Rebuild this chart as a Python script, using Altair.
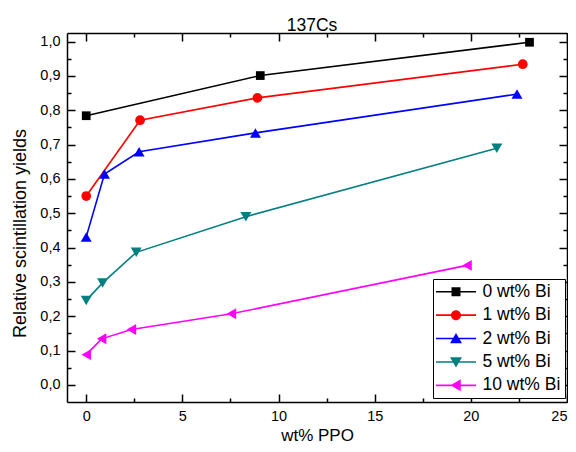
import altair as alt
import pandas as pd

series_names = ["0 wt% Bi", "1 wt% Bi", "2 wt% Bi", "5 wt% Bi", "10 wt% Bi"]
colors = ["#000000", "#ff0000", "#0000ff", "#008080", "#ff00ff"]
shapes = ["square", "circle", "triangle-up", "triangle-down", "triangle-left"]
marker_sizes = [76, 95, 120, 120, 120]

ppo_0 = [0, 9.05, 23.05]
yield_0 = [0.784, 0.901, 0.998]
ppo_1 = [0, 2.8, 8.9, 22.7]
yield_1 = [0.550, 0.771, 0.836, 0.934]
ppo_2 = [0, 0.95, 2.75, 8.8, 22.4]
yield_2 = [0.431, 0.614, 0.679, 0.734, 0.847]
ppo_5 = [0, 0.85, 2.6, 8.3, 21.35]
yield_5 = [0.246, 0.297, 0.386, 0.490, 0.689]
ppo_10 = [0, 0.8, 2.35, 7.55, 19.8]
yield_10 = [0.088, 0.134, 0.161, 0.207, 0.348]

x_label_values = [0, 5, 10, 15, 20, 25]
x_tick_values = [0, 2.5, 5, 7.5, 10, 12.5, 15, 17.5, 20, 22.5, 25]
y_label_values = [0.0, 0.1, 0.2, 0.3, 0.4, 0.5, 0.6, 0.7, 0.8, 0.9, 1.0]
y_tick_values = [0.0, 0.05, 0.1, 0.15, 0.2, 0.25, 0.3, 0.35, 0.4, 0.45, 0.5,
                 0.55, 0.6, 0.65, 0.7, 0.75, 0.8, 0.85, 0.9, 0.95, 1.0]

# legend symbols: a line segment with the series marker drawn on it
LINE = "M-1.95,-0.16L6.05,-0.16L6.05,0.16L-1.95,0.16Z"
legend_paths = [
    LINE + "M1.15,-0.9L2.95,-0.9L2.95,0.9L1.15,0.9Z",
    LINE + "M1.05,0A1,1,0,1,1,3.05,0A1,1,0,1,1,1.05,0Z",
    LINE + "M2.05,-1.1L3.25,0.95L0.85,0.95Z",
    LINE + "M2.05,1.1L0.85,-0.95L3.25,-0.95Z",
    LINE + "M0.95,0L3.0,-1.2L3.0,1.2Z",
]

rows = []
for name, xs, ys in zip(series_names,
                        [ppo_0, ppo_1, ppo_2, ppo_5, ppo_10],
                        [yield_0, yield_1, yield_2, yield_5, yield_10]):
    for xv, yv in zip(xs, ys):
        rows.append({"series": name, "ppo": xv, "yield": yv})
df = pd.DataFrame(rows)

W, H = 500, 369
FONT = "Liberation Sans"

x_scale = alt.Scale(domain=[-1, 25], nice=False, zero=False)
y_scale = alt.Scale(domain=[-0.05, 1.025], nice=False, zero=False)

x_cond = {"condition": {"test": "datum.value % 5 === 0", "value": 8}, "value": 4}
y_cond = {"condition": {"test": "abs(datum.value*10 - round(datum.value*10)) < 0.001", "value": 8}, "value": 4}

base = alt.Chart(df)

lines = base.mark_line(strokeWidth=1.6).encode(
    x=alt.X("ppo:Q", scale=x_scale,
            axis=alt.Axis(orient="bottom", values=x_label_values, ticks=False,
                          labelExpr="format(datum.value, 'd')", labelPadding=7,
                          labelFlush=True, labelFlushOffset=0, labelOverlap=False,
                          title="wt% PPO", titlePadding=5)),
    y=alt.Y("yield:Q", scale=y_scale,
            axis=alt.Axis(orient="left", values=y_label_values, ticks=False,
                          labelExpr="replace(format(datum.value, '.1f'), '.', ',')",
                          labelPadding=7, labelFlush=False, labelOverlap=False,
                          title="Relative scintillation yields", titlePadding=10,
                          titleFontSize=18, titleY=200)),
    color=alt.Color("series:N", scale=alt.Scale(domain=series_names, range=colors), legend=None),
)

point_layers = []
for name, col, shp, sz in zip(series_names, colors, shapes, marker_sizes):
    point_layers.append(
        base.transform_filter(alt.datum.series == name)
        .mark_point(filled=True, opacity=1, shape=shp, size=sz, color=col)
        .encode(
            x=alt.X("ppo:Q", scale=x_scale, axis=None),
            y=alt.Y("yield:Q", scale=y_scale, axis=None),
        )
    )

leg = dict(title=None, orient="none", legendX=366, legendY=246, padding=4,
           strokeColor="#000000", fillColor="#ffffff", labelFont=FONT,
           labelFontSize=17.5, labelColor="#000000", labelOffset=28,
           symbolSize=100, symbolStrokeWidth=0, rowPadding=4.4)

# empty layer: carries the legend and the inward ticks on bottom and left
legend_layer = base.transform_filter("false").mark_point(filled=True, opacity=1).encode(
    x=alt.X("ppo:Q", scale=x_scale,
            axis=alt.Axis(orient="top", offset=-H, values=x_tick_values,
                          labels=False, domain=False, tickSize=x_cond, title=None)),
    y=alt.Y("yield:Q", scale=y_scale,
            axis=alt.Axis(orient="right", offset=-W, values=y_tick_values,
                          labels=False, domain=False, tickSize=y_cond, title=None)),
    color=alt.Color("series:N", scale=alt.Scale(domain=series_names, range=colors), legend=alt.Legend(**leg)),
    shape=alt.Shape("series:N", scale=alt.Scale(domain=series_names, range=legend_paths), legend=alt.Legend(**leg)),
)

# empty layer: top and right frame lines with inward ticks
frame_layer = base.transform_filter("false").mark_point(opacity=0).encode(
    x=alt.X("ppo:Q", scale=x_scale,
            axis=alt.Axis(orient="bottom", offset=-H, values=x_tick_values,
                          labels=False, domain=True, tickSize=x_cond, title=None)),
    y=alt.Y("yield:Q", scale=y_scale,
            axis=alt.Axis(orient="left", offset=-W, values=y_tick_values,
                          labels=False, domain=True, tickSize=y_cond, title=None)),
)

chart = alt.layer(lines, *point_layers, legend_layer, frame_layer).resolve_axis(
    x="independent", y="independent"
).resolve_scale(
    color="independent", shape="independent"
).properties(
    width=W, height=H,
    title=alt.TitleParams("137Cs", font=FONT, fontSize=17.5, fontWeight="normal",
                          color="#000000", anchor="middle", frame="group",
                          offset=-2, dx=-5),
    autosize=alt.AutoSizeParams(type="none"),
    padding={"left": 59, "top": 25, "right": 1, "bottom": 42},
).configure_view(
    stroke=None
).configure_axis(
    grid=False, domainColor="#000000", domainWidth=1.5, tickColor="#000000",
    tickWidth=1.5, labelColor="#000000", labelFont=FONT, labelFontSize=14.5,
    titleFont=FONT, titleFontSize=17, titleFontWeight="normal", titleColor="#000000",
)

chart.save("out.html", embed_options={"renderer": "svg", "actions": False})
